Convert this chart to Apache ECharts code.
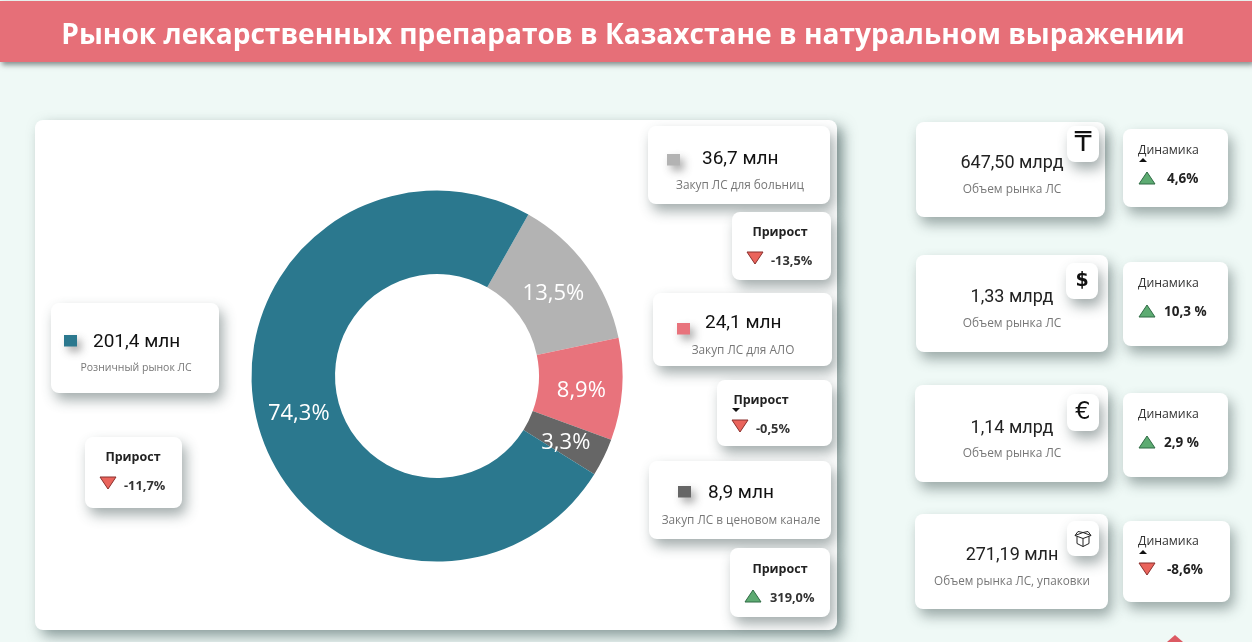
<!DOCTYPE html>
<html lang="ru"><head><meta charset="utf-8">
<style>html,body{margin:0;padding:0;background:#eff9f6}#c{width:1252px;height:642px}</style>
<script src="https://cdn.jsdelivr.net/npm/echarts@6/dist/echarts.min.js"></script>
</head><body><div id="c"></div>
<script>
const titleText = 'Рынок лекарственных препаратов в Казахстане в натуральном выражении';
const segmentNames = ['Закуп ЛС для больниц','Закуп ЛС для АЛО','Закуп ЛС в ценовом канале','Розничный рынок ЛС'];
const segmentShares = [13.5, 8.9, 3.3, 74.3];
const segmentVolumes = ['36,7 млн','24,1 млн','8,9 млн','201,4 млн'];
const segmentGrowth = [-13.5, -0.5, 319.0, -11.7];
const growthTitle = 'Прирост';
const kpiValues = ['647,50 млрд','1,33 млрд','1,14 млрд','271,19 млн'];
const kpiLabels = ['Объем рынка ЛС','Объем рынка ЛС','Объем рынка ЛС','Объем рынка ЛС, упаковки'];
const kpiIcons = ['₸','$','€',''];
const kpiDynamics = [4.6, 10.3, 2.9, -8.6];
const kpiDynamicsText = ['4,6%','10,3 %','2,9 %','-8,6%'];
const dynamicsTitle = 'Динамика';

const colors = ['#b3b3b3','#e8737c','#666666','#2b788e'];
const labelNudge = [[-2,4],[-2,4],[-3,2],[4,2]];
const FONT = '"Open Sans","Noto Sans",sans-serif';
const VAL = 'Roboto,"Noto Sans",sans-serif';
const g = [];
let zc = 1;
function card(x0,y0,x1,y1,r){
  g.push({type:'rect',z:zc++,shape:{x:x0,y:y0,width:x1-x0,height:y1-y0,r:r||8},
    style:{fill:'#fff',shadowColor:'rgba(50,70,70,0.45)',shadowBlur:13,shadowOffsetX:4,shadowOffsetY:7}});
}
function text(t,x,y,size,color,weight,align,font){
  g.push({type:'text',z:200,x:x,y:y+1,style:{text:t,font:(weight||'normal')+' '+size+'px '+(font||FONT),fill:color,align:align||'center',verticalAlign:'middle'}});
}
function tri(cx,cy,up){
  const w=8,h=6;
  const pts = up?[[cx-w,cy+h],[cx+w,cy+h],[cx,cy-h]]:[[cx-w,cy-h],[cx+w,cy-h],[cx,cy+h]];
  g.push({type:'polygon',z:200,shape:{points:pts},style:{fill:up?'#5dab72':'#ea645c',stroke:up?'#2f6b45':'#8a2f2c',lineWidth:1}});
}
function tiny(cx,cy,up){
  const pts = up?[[cx-4,cy+2],[cx+4,cy+2],[cx,cy-2]]:[[cx-4,cy-2],[cx+4,cy-2],[cx,cy+2]];
  g.push({type:'polygon',z:200,shape:{points:pts},style:{fill:'#111'}});
}
function fmtGrowth(v){return v.toFixed(1).replace('.',',')+'%';}

// header
g.push({type:'rect',z:0,shape:{x:0,y:1,width:1252,height:61},style:{fill:'#e66f78',shadowColor:'rgba(50,60,60,0.55)',shadowBlur:5,shadowOffsetX:2,shadowOffsetY:3}});
text(titleText,623,35,28.1,'#fff','bold');
// main panel
g.push({type:'rect',z:0,shape:{x:35,y:120,width:802,height:510,r:8},style:{fill:'#fff',shadowColor:'rgba(50,75,75,0.55)',shadowBlur:14,shadowOffsetX:6,shadowOffsetY:6}});

// segment cards layout
const segLayout = [
 {c:[648,126,830,204],sq:[667,154],vx:702,vy:158,sx:740,sy:185,sf:11.8,p:[732,212,831,280],tx:780,ty:231,ax:755,ay:258,gx:771,gy:260},
 {c:[653,293,832,366],sq:[677,323],vx:705,vy:322,sx:743,sy:350,sf:11.8,p:[717,380,832,446],tx:761,ty:399,ax:740,ay:426,gx:756,gy:428,tn:[736,410,false]},
 {c:[649,461,831,539],sq:[678,486],vx:708,vy:492,sx:741,sy:520,sf:11.8,p:[730,548,830,617],tx:780,ty:568,ax:753,ay:596,gx:770,gy:597},
 {c:[51,303,219,393],sq:[64,335],vx:93,vy:341,sx:136,sy:367,sf:10.5,p:[85,437,182,508],tx:133,ty:456,ax:108,ay:483,gx:124,gy:485}
];
segLayout.forEach((L,i)=>{
  card(...L.c);
  g.push({type:'rect',z:200,shape:{x:L.sq[0],y:L.sq[1],width:13,height:11.5},style:{fill:colors[i],shadowColor:'rgba(60,60,60,0.45)',shadowBlur:9,shadowOffsetX:4,shadowOffsetY:5}});
  text(segmentVolumes[i],L.vx,L.vy,19,'#111','normal','left',VAL);
  text(segmentNames[i],L.sx,L.sy,L.sf,'#777','normal');
  card(...L.p);
  text(growthTitle,L.tx,L.ty,12.5,'#222','bold');
  tri(L.ax,L.ay,segmentGrowth[i]>=0);
  text(fmtGrowth(segmentGrowth[i]),L.gx,L.gy,12.8,'#333','bold','left');
  if(L.tn) tiny(...L.tn);
});

// KPI layout
const kpiLayout = [
 {c:[916,122,1105,217],i:[1067,126,1099,162],vy:162,sy:189,sf:11.9,d:[1123,129,1228,207],ty:149,ay:178,gx:1167,tn:[1143,160,true]},
 {c:[916,255,1108,352],i:[1066,263,1098,299],vy:296,sy:323,sf:11.9,d:[1123,262,1228,346],ty:282,ay:311,gx:1164},
 {c:[915,385,1108,482],i:[1067,394,1099,431],vy:427,sy:453,sf:11.9,d:[1123,393,1228,477],ty:413,ay:442,gx:1164},
 {c:[915,514,1108,609],i:[1067,521,1099,556],vy:554,sy:581,sf:11.7,d:[1123,521,1230,602],ty:540,ay:569,gx:1167,tn:[1143,552,true]}
];
kpiLayout.forEach((L,i)=>{
  card(...L.c);
  text(kpiValues[i],1012,L.vy,18,'#222','normal','center',VAL);
  text(kpiLabels[i],1012,L.sy,L.sf,'#777','normal');
  card(...L.i);
  const ix=(L.i[0]+L.i[2])/2, iy=(L.i[1]+L.i[3])/2;
  if(kpiIcons[i]) text(kpiIcons[i],ix,iy-1,i===2?24:(i===0?27:19),'#111',i===1?'bold':'normal','center','"DejaVu Sans",sans-serif');
  else {
    // box icon
    const x=ix,y=iy;
    [[[x-8,y-3],[x,y-6],[x+8,y-3],[x,y],[x-8,y-3]],
     [[x-6,y-2],[x-6,y+5],[x,y+8],[x+6,y+5],[x+6,y-2]],
     [[x,y],[x,y+8]],[[x-8,y-3],[x-5,y-7],[x,y-6],[x+5,y-7],[x+8,y-3]]].forEach(p=>
      g.push({type:'polyline',z:200,shape:{points:p},style:{stroke:'#222',lineWidth:1,fill:null}}));
  }
  card(...L.d);
  text(dynamicsTitle,1138,L.ty,12.3,'#333','normal','left');
  tri(1147,L.ay,kpiDynamics[i]>=0);
  text(kpiDynamicsText[i],L.gx,L.ay,13.5,'#222','bold','left');
  if(L.tn) tiny(...L.tn);
});
// corner logo fragment
g.push({type:'polygon',z:5,shape:{points:[[1167,642],[1175,635],[1183,642]]},style:{fill:'#dc5a63'}});

const chart = echarts.init(document.getElementById('c'),null,{renderer:'canvas',width:1252,height:642});
chart.setOption({
  backgroundColor:'#eff9f6',
  animation:false,
  graphic:{elements:g},
  series:[{
    type:'pie',z:3,center:[437,376],radius:[102,185.5],startAngle:60.5,clockwise:true,
    avoidLabelOverlap:false,silent:true,
    label:{show:true,position:'inside',color:'#fff',fontSize:22,fontFamily:FONT,
      formatter:p=>p.value.toFixed(1).replace('.',',')+'%'},
    labelLine:{show:false},
    data:segmentNames.map((n,i)=>({name:n,value:segmentShares[i],itemStyle:{color:colors[i]},label:{offset:labelNudge[i]}}))
  }]
});
</script></body></html>
